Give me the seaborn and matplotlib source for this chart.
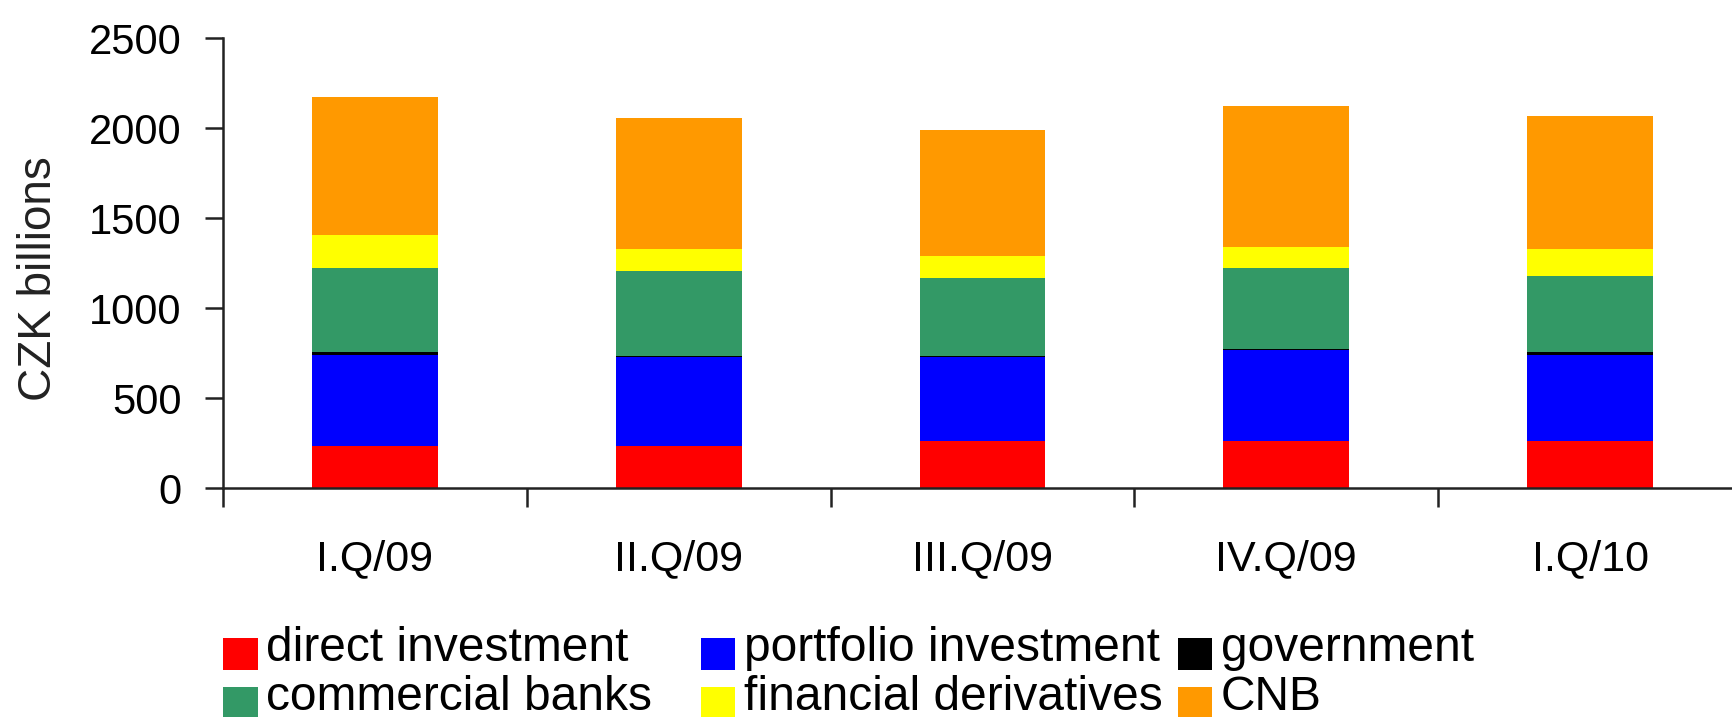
import numpy as np
import pandas as pd
import matplotlib
matplotlib.use("Agg")
import matplotlib.pyplot as plt
from matplotlib.patches import Patch, Rectangle
from matplotlib.legend_handler import HandlerPatch
import seaborn as sns

categories = ["I.Q/09", "II.Q/09", "III.Q/09", "IV.Q/09", "I.Q/10"]
direct_investment = [236, 234, 262, 262, 262]
portfolio_investment = [506, 495, 467, 507, 480]
government = [15, 3, 3, 3, 15]
commercial_banks = [464, 476, 436, 449, 424]
financial_derivatives = [186, 120, 120, 120, 146]
cnb = [766, 727, 701, 781, 741]

series_names = ["direct investment", "portfolio investment", "government",
                "commercial banks", "financial derivatives", "CNB"]
series_values = [direct_investment, portfolio_investment, government,
                 commercial_banks, financial_derivatives, cnb]
colors = ["#FF0000", "#0000FF", "#000000", "#339966", "#FFFF00", "#FF9900"]
yticks = [0, 500, 1000, 1500, 2000, 2500]

sns.set_theme(style="white")
plt.rcParams["font.family"] = ["Liberation Sans", "DejaVu Sans"]
plt.rcParams["text.color"] = "black"

W, H = 1733, 717
fig = plt.figure(figsize=(W / 100, H / 100), dpi=100)
ax = fig.add_axes([223 / W, 1 - 488 / H, 1519 / W, (488 - 38.3) / H])

cum = np.cumsum(np.array(series_values, dtype=float), axis=0)
df = pd.DataFrame({"category": categories})
for i in range(len(series_names) - 1, -1, -1):
    df["val"] = cum[i]
    sns.barplot(data=df, x="category", y="val", color=colors[i], width=0.414,
                saturation=1, linewidth=0, ax=ax, order=categories)

ax.set_xlim(-0.5, 4.5)
ax.set_ylim(0, 2500)
ax.set_yticks(yticks)
ax.set_yticklabels([str(v) for v in yticks], fontsize=30)
ax.tick_params(axis="y", direction="out", length=13, width=1.8, pad=17,
               colors="#222222", labelcolor="black", left=True)

ax.set_xticks([-0.5, 0.5, 1.5, 2.5, 3.5, 4.5])
ax.set_xticklabels([""] * 6)
ax.set_xticks(range(len(categories)), minor=True)
ax.set_xticklabels(categories, minor=True, fontsize=31)
ax.tick_params(axis="x", which="major", direction="out", length=14, width=1.8,
               colors="#222222", bottom=True)
ax.tick_params(axis="x", which="minor", length=0, pad=37, labelcolor="black")

ax.set_xlabel("")
ax.set_ylabel("CZK billions", fontsize=33, color="#222222")
ax.yaxis.set_label_coords(-0.1067, 0.466)

for s in ["top", "right"]:
    ax.spines[s].set_visible(False)
for s in ["left", "bottom"]:
    ax.spines[s].set_color("#222222")
    ax.spines[s].set_linewidth(1.8)


def lowered_square(legend, orig_handle, xdescent, ydescent, width, height, fontsize):
    return Rectangle((-xdescent, -ydescent - 7.2), width, height)


handler = HandlerPatch(patch_func=lowered_square)

columns = [[0, 3], [1, 4], [2, 5]]
col_x = [223, 701, 1178]
for cols, x0 in zip(columns, col_x):
    handles = [Patch(facecolor=colors[i], edgecolor="none") for i in cols]
    labels = [series_names[i] for i in cols]
    fig.legend(handles, labels, ncol=1, loc="upper left",
               bbox_to_anchor=(x0 / W, 1 - 626 / H), frameon=False,
               fontsize=34.5, handlelength=0.72, handleheight=0.64,
               handletextpad=0.18, labelspacing=0.085,
               borderpad=0, borderaxespad=0, labelcolor="black",
               handler_map={Patch: handler})

fig.savefig("out.png", dpi=100)
